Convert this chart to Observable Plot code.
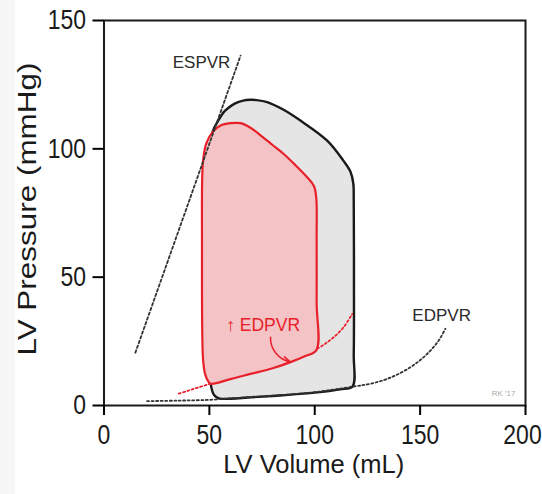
<!DOCTYPE html>
<html>
<head>
<meta charset="utf-8">
<script src="https://cdn.jsdelivr.net/npm/d3@7"></script>
<script src="https://cdn.jsdelivr.net/npm/@observablehq/plot@0.6"></script>
<style>
  html, body { margin: 0; padding: 0; background: #fff; }
</style>
</head>
<body>
<div id="chart"></div>
<script>
// ---- data ----
const xTicks = [0, 50, 100, 150, 200];
const yTicks = [0, 50, 100, 150];

// Baseline (black) pressure-volume loop
const baseLoopV = [56.1, 70, 85, 100, 112, 117.9, 118.5, 118.6, 118.5, 118.3, 117.0, 113.5, 105.9, 93.2, 85, 77.4, 72.5, 69.5, 66, 62, 58.5, 56.8, 54.2, 52.2, 51.1, 50.6, 50.4, 50.4, 50.5, 50.9, 52.3, 54.2];
const baseLoopP = [2.6, 3.2, 4.0, 5.0, 6.3, 7.4, 20, 50, 80, 86.5, 91, 95.5, 103.2, 111, 115.3, 118.2, 119.0, 119.1, 118.8, 117.6, 115.6, 114.3, 111, 108, 105.2, 100, 80, 40, 15, 7.1, 4.0, 2.9];

// Increased EDPVR (red) loop
const redLoopV = [50.5, 60, 69.5, 80, 88.5, 95, 100.8, 100.9, 100.9, 100.7, 99.6, 96.4, 91, 85.3, 80, 75, 69.5, 64.8, 60, 55.3, 51.5, 48.5, 47.1, 46.6, 46.5, 46.6, 47.0, 47.9, 49.2];
const redLoopP = [8.5, 10.3, 12.3, 14.5, 16.9, 19.1, 21.6, 40, 65, 81.1, 85.5, 88.9, 93.5, 98, 101.5, 104.8, 108.2, 110.0, 110.0, 109.1, 106.5, 102, 96, 89, 60, 30, 18, 12.5, 9.8];

// Pressure-volume relations
const espvrV = [14.9, 64.8];
const espvrP = [20.6, 136.3];
const edpvrV = [20.5, 35, 50, 60, 80, 100, 118.5, 126, 132.8, 139, 145.4, 150.5, 154.9, 158.8, 162];
const edpvrP = [1.7, 1.9, 2.2, 2.8, 3.8, 5.2, 7.4, 8.4, 9.9, 12.0, 14.9, 18.0, 21.4, 25.3, 29.9];
const redEdpvrV = [35.5, 40, 45, 50.5, 60, 69.5, 80, 88.5, 95, 101.2, 105, 109, 113.5, 117.8];
const redEdpvrP = [4.6, 5.8, 7.1, 8.5, 10.3, 12.3, 14.5, 16.9, 19.1, 22.1, 24.1, 26.6, 30.3, 35.7];

// Annotations
const labelText = ["ESPVR", "EDPVR", "\u2191 EDPVR", "RK '17"];
const labelV = [46.3, 160.2, 75.5, 189.6];
const labelP = [133.6, 35.1, 31.2, 4.7];
const arrowFromV = [79.0], arrowFromP = [26.6];
const arrowToV = [88.5], arrowToP = [16.9];

const xLabel = "LV Volume (mL)";
const yLabel = "LV Pressure (mmHg)";

// ---- build tables ----
const zip = (vs, ps) => vs.map((v, i) => ({v, p: ps[i]}));
const baseLoop = zip(baseLoopV, baseLoopP);
const redLoop = zip(redLoopV, redLoopP);
const espvr = zip(espvrV, espvrP);
const edpvr = zip(edpvrV, edpvrP);
const redEdpvr = zip(redEdpvrV, redEdpvrP);
const labels = labelText.map((t, i) => ({t, v: labelV[i], p: labelP[i]}));
const arrows = arrowFromV.map((v, i) => ({v1: v, p1: arrowFromP[i], v2: arrowToV[i], p2: arrowToP[i]}));

const RED = "#e8202a";
const FONT = "'Liberation Sans', Arial, sans-serif";

const chart = Plot.plot({
  width: 542,
  height: 494,
  marginLeft: 103.5,
  marginRight: 17,
  marginTop: 20,
  marginBottom: 89,
  style: {fontFamily: FONT, background: "linear-gradient(to right, #f7f7f7 15px, #ffffff 15px)"},
  x: {domain: [0, 200]},
  y: {domain: [0, 150]},
  marks: [
    // loops
    Plot.line(baseLoop, {x: "v", y: "p", curve: "catmull-rom-closed", fill: "#e5e5e5", stroke: "#1a1a1a", strokeWidth: 2.4}),
    Plot.line(redLoop, {x: "v", y: "p", curve: "catmull-rom-closed", fill: "#f3c3c5", stroke: RED, strokeWidth: 2.2}),
    // relations
    Plot.line(espvr, {x: "v", y: "p", stroke: "#333", strokeWidth: 1.8, strokeDasharray: "2.5,2.5"}),
    Plot.line(edpvr, {x: "v", y: "p", curve: "catmull-rom", stroke: "#333", strokeWidth: 1.8, strokeDasharray: "2,2.5"}),
    Plot.line(redEdpvr.filter(d => d.v <= 50.5), {x: "v", y: "p", curve: "catmull-rom", stroke: RED, strokeWidth: 1.8, strokeDasharray: "2,2.5"}),
    Plot.line(redEdpvr.filter(d => d.v >= 101.2), {x: "v", y: "p", curve: "catmull-rom", stroke: RED, strokeWidth: 1.8, strokeDasharray: "2,2.5"}),
    // arrow
    Plot.arrow(arrows, {x1: "v1", y1: "p1", x2: "v2", y2: "p2", bend: -40, stroke: RED, strokeWidth: 1.5, headLength: 8}),
    // labels
    Plot.text(labels.slice(0, 2), {x: "v", y: "p", text: "t", fontSize: 17, fill: "#2a2a2a"}),
    Plot.text(labels.slice(2, 3), {x: "v", y: "p", text: "t", fontSize: 17.5, fill: RED}),
    Plot.text(labels.slice(3, 4), {x: "v", y: "p", text: "t", fontSize: 8, fill: "#aaa"}),
    // frame and axes
    Plot.frame({stroke: "#1a1a1a", strokeWidth: 2}),
    Plot.axisX({ticks: xTicks, tickSize: 10, tickPadding: 9, strokeWidth: 2, fontSize: 28, fill: "#1a1a1a", label: null}),
    Plot.axisY({ticks: yTicks, tickSize: 11, tickPadding: 7, strokeWidth: 2, fontSize: 28, fill: "#1a1a1a", label: null}),
    Plot.text([xLabel], {frameAnchor: "bottom", dx: -1, dy: 67, fontSize: 25.5, fill: "#1a1a1a"}),
    Plot.text([yLabel], {frameAnchor: "left", textAnchor: "start", dx: -76, dy: 142.5, rotate: -90, fontSize: 26, fill: "#1a1a1a"})
  ]
});

// condense tick labels as in the reference (scale about each label's anchor)
function rescale(t, sx, extraDx = 0) {
  const tr = t.getAttribute("transform");
  if (!tr) return;
  t.setAttribute("transform", `${tr} translate(${extraDx},0) scale(${sx},1)`);
}
chart.querySelectorAll("g[aria-label='x-axis tick label'] text").forEach((t, i, all) => {
  rescale(t, 0.82, i === all.length - 1 ? -3 : 0);
});
chart.querySelectorAll("g[aria-label='y-axis tick label'] text").forEach(t => rescale(t, 0.82));
// stretch the y label along its length, as in the reference
chart.querySelectorAll("text").forEach(t => {
  if (t.textContent === yLabel) {
    t.setAttribute("textLength", 293);
    t.setAttribute("lengthAdjust", "spacingAndGlyphs");
  }
});

document.getElementById("chart").append(chart);
</script>
</body>
</html>
